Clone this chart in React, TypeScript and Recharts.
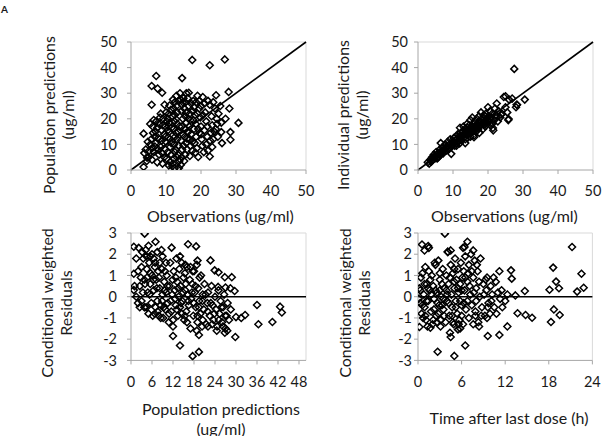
import React from "react";
import {
  ScatterChart,
  Scatter,
  XAxis,
  YAxis,
  ReferenceLine,
} from "recharts";

// panel A1: observations vs population predictions
const popObs = [
  3.6, 3.8, 3.6, 4.5, 5, 4.2, 5.5, 5.8, 6, 6.5, 6.8, 7, 6.2, 6.5, 7.2, 7.5, 8, 8.2, 8.5, 8, 7.5, 9, 9.5, 9.8, 10, 9.5, 9.8, 10.2, 10.5, 10.8,
  11, 11, 11, 11.2, 11.5, 11.2, 11.8, 12.5, 13.7, 12.2, 12.5, 12.3, 12.6, 12.2, 12.4, 12.5, 12.2, 12.5, 12, 13, 13.2, 13.3, 13.5, 13.2, 13.5, 13.4, 13.8, 14.2, 14.5, 14.6,
  14.3, 14.7, 14.5, 14.8, 14.4, 14.6, 14.2, 15, 15.5, 15.2, 15.5, 15.8, 15.6, 15.3, 15.8, 16, 15.5, 16.2, 16.5, 16.8, 17, 16.6, 17.2, 16.8, 17, 17.5, 17.8, 18, 18.3, 18.5,
  18, 18.6, 18.2, 18.8, 19.2, 19.5, 19.5, 19.8, 20, 19.6, 20.2, 20.4, 21, 21.2, 21.5, 21, 21.8, 21.5, 22, 22.5, 22.5, 23, 23.2, 22.8, 23.5, 23.2, 24, 24.3, 24.5, 24.2,
  24.8, 25, 25.5, 25.8, 25.8, 26, 27, 28.4, 28.4, 28.1, 27.9, 30.7, 5.9, 9.6, 5.9, 7.6, 8.9, 7.2, 14.6, 17.5, 22.5, 26.8, 15.8, 14, 13, 16.5, 11, 8.5, 9.2, 5.5,
  10.2, 8.8, 10.5, 4.8, 6.8, 19, 20.5, 22, 16, 17.5, 19, 20,
  9, 10.5, 11.5, 12.8, 13.8, 12.9, 11.8, 10.8, 9.8, 8.8, 7.8, 7, 6, 5.2, 4.6, 14, 15, 16.3, 17.8, 19.2, 20.5, 21.8, 22.6, 23.8, 24.6,
  14.8, 13.6, 17.2, 18.6, 15.8, 16.4, 17.6, 12.9, 11.6, 10.6, 13.1, 12, 10.8, 15.2, 16.8, 18.4, 20.8, 11.4, 10, 9, 8.3, 6.3, 7.8, 20, 23.5,
];
const popPred = [
  1.2, 6.6, 14.2, 3.5, 5, 8, 10, 12, 4, 7, 13, 15, 17, 19.5, 19, 16.5, 18, 12, 9, 6, 3, 2.5, 5, 8, 11, 14, 17, 19, 20, 22,
  18.5, 15, 12, 9, 6, 3, 1.5, 0.8, 0.8, 4.5, 7, 10, 13, 16, 19, 21.5, 24, 26.5, 27.5, 25, 22.5, 18, 15, 12, 9.5, 6, 3.5, 2, 5, 8,
  11.5, 14, 17, 20, 23, 25.5, 27.5, 28, 26.5, 24, 21, 18.5, 16, 13, 10.5, 8, 6, 28, 25, 22, 19.5, 17, 14, 12, 9.5, 7.5, 27, 24.5, 21.5, 18,
  16, 13, 10.5, 8.5, 5.1, 27, 24, 20.5, 17, 14.5, 12, 9.5, 26, 22.5, 19, 15.5, 13, 10, 7.5, 5.3, 25.5, 21, 17.5, 14.5, 12, 9, 24, 29.2, 20, 16,
  13, 22, 25, 18.5, 14.8, 10.5, 20, 14.8, 11.8, 24, 30.5, 18.4, 25.5, 25.5, 32.8, 31.8, 30.2, 36.7, 35.9, 43, 40.9, 43.2, 30, 30, 29, 30.2, 25.2, 22, 20, 18,
  4.5, 11.5, 15.5, 11, 9.2, 29, 28.5, 27, 12.2, 11, 22, 25,
  6.5, 7, 10.5, 8, 17, 19.8, 21, 17, 13, 15.5, 12.5, 10.5, 8.5, 7.5, 4.8, 4.2, 9.5, 14.8, 19.5, 16, 21.5, 17, 11.5, 15, 18,
  26.5, 27, 26, 26.5, 22.5, 20, 23, 14.5, 16.5, 12.8, 5, 2.5, 1.8, 3.5, 5.5, 6.8, 7, 23.5, 22.5, 17.5, 20.5, 14.5, 8, 14, 26.5,
];

// panel A2: observations vs individual predictions
const indObs = [
  2.8, 3.2, 3.5, 3.8, 4, 4.3, 4.5, 4.8, 5, 5.2, 5.5, 5.8, 6, 6.2, 6.5, 6.5, 6.8, 7, 7.2, 7.5, 7.8, 8, 8.2, 8.5, 8.8, 9, 9.2, 9.5, 9.5, 9.8,
  10, 10.2, 10.5, 10.6, 10.8, 11, 11.2, 11.4, 11.5, 11.8, 12, 12, 12.2, 12.4, 12.6, 12.8, 13, 13, 13.2, 13.4, 13.5, 13.8, 14, 14, 14.2, 14.4, 14.6, 14.8, 15, 15,
  15.2, 15.4, 15.5, 15.7, 15.9, 16, 16.2, 16.4, 16.6, 16.8, 17, 17.2, 17.4, 17.5, 17.6, 17.8, 18, 18.2, 18.4, 18.6, 18.8, 19, 19.2, 19.4, 19.6, 19.8, 20, 20.2, 20.4, 20.6,
  20.8, 21, 21.2, 21.5, 21.8, 22, 22.2, 22.5, 22.8, 23, 23.5, 24, 24.5, 25, 25.5, 25.8, 26, 27.5, 28, 28.2, 30.5, 4, 5.5, 11, 13.5, 16, 7, 8.5, 9.8, 25, 26.9, 28.3, 25.9, 21.4,
  10.3, 11.7, 12.9, 13.7, 14.9, 15.6, 16.5, 17.3, 18.1, 18.9, 19.7, 20.5, 21.3, 8.1, 6.1, 5.1, 11.9, 14.1, 16.9, 19.3, 22.3, 23.7,
];
const indPred = [
  3, 2.5, 4, 3.2, 5, 4.2, 6, 4.8, 5.5, 7, 6.2, 5, 6.8, 8, 6, 10.5, 7.5, 9, 6.5, 8.2, 10, 7.5, 9.2, 11, 8.5, 10, 12, 9, 6.3, 11,
  10, 12.5, 9.5, 11.5, 13, 10.5, 12, 14, 11, 13, 12, 16.5, 14.5, 11.5, 13.5, 15, 12.5, 17, 14, 16, 12, 15, 13.5, 18, 16.5, 14.5, 17.5, 15.5, 13, 19.5,
  17, 15, 20.5, 18, 16, 13.5, 19, 17, 15, 20, 18, 16, 21, 14.5, 19, 17.5, 22.5, 20, 18, 16, 21.5, 19, 17, 22, 20, 18, 24.5, 21, 19, 23,
  17.5, 20.5, 22, 15.5, 19.5, 24, 21.5, 26, 19, 23, 20.5, 22, 28.5, 24.5, 22.5, 19.5, 27.5, 39.5, 24.5, 25.5, 27.5, 3.8, 4.5, 9.5, 10.5, 12.8, 7.2, 8.3, 9.5, 28.8, 27.9, 25.5, 19.9, 16.4,
  10.8, 11.5, 13.8, 14.2, 14.5, 16.8, 15.8, 17.3, 18.6, 17.7, 19.3, 20.2, 18.2, 8.6, 6.2, 4.6, 10.4, 12.4, 16.6, 20.9, 20.3, 21.6,
];

// panel A3: population predictions vs CWRES
const resPred = [
  2, 2.5, 3, 3.5, 3.8, 4, 4.2, 4.5, 4.8, 5, 5.2, 5.5, 5.8, 6, 6, 6.2, 6.5, 6.8, 7, 7.2, 7.5, 7.8, 8, 8.2, 8.5, 8.8, 9, 9.2, 9.5, 9.8,
  10, 10.2, 10.5, 10.8, 11, 11.2, 11.5, 11.8, 12, 12.2, 12.5, 12.8, 13, 13.2, 13.4, 13.6, 13.8, 14, 14.2, 14.5, 14.7, 15, 15.2, 15.5, 15.8, 16, 16.2, 16.5, 16.8, 17,
  17.2, 17.5, 17.8, 18, 18.2, 18.5, 18.8, 19, 19.2, 19.5, 19.8, 20, 20.3, 20.5, 20.8, 21, 21.5, 21.8, 22, 22.5, 23, 23.3, 23.6, 24, 24.3, 24.6, 25, 25.3, 25.6, 26,
  26.3, 26.6, 27, 27.3, 27.6, 28, 28.5, 1.5, 2.2, 3.2, 5, 6.5, 7.5, 9, 10, 14, 15.5, 17, 19, 4.5, 3.8, 6.8, 8.5, 12, 14.5, 16, 18.8, 22, 24.5, 26.8, 27.5,
  3.9, 0.8, 7, 8.7, 11.6, 16.3, 18.6, 22.7, 0.8, 0.8, 36, 42.6, 43.1, 36.4, 40.4, 29.8, 12, 14, 17.6, 19.4, 19.4, 32.6, 31.5, 30, 23.9, 25, 26.8, 28.8, 24.9, 27, 28.4, 29.6,
  1, 1.5, 2, 2.8, 3.4, 4, 4.6, 5.3, 5.6, 6.4, 7.4, 8, 8.9, 9.6, 10.4, 11.3, 11.9, 12.6, 13.5, 14.3, 14.9, 15.6, 16.4, 17.4, 18.4, 19.4, 20.4, 21.3, 22.8, 23.8,
  25.8, 26.9, 3, 4.4, 5.5, 6.9, 8.2, 9.7, 12.8, 15.4, 17.6, 19.6, 2.5, 7.6, 9.4, 10.9, 13.1, 15.4, 17.9, 19, 20.5, 21.9, 23.2, 25.1, 26.3,
];
const resPredCwres = [
  1.2, 0.5, -0.2, 1.8, 0.8, -0.5, 2.2, 1.3, 0.2, -0.8, 1.6, 0.6, -0.3, 2, 1, -0.9, 0.3, 1.4, -0.5, 0.8, -0.2, 1.2, -0.9, 0.4, -0.4, 1.3, 0.1, -1, 0.7, -0.6,
  0.2, 1, -0.3, -1.2, 0.5, 1.6, -0.7, 0.1, -1.4, 1.2, 0.3, -0.4, 1.8, 0.7, -0.9, 0, 1.3, -0.5, 0.5, 1.6, -0.2, 0.9, -1.1, 0.3, -0.7, 1.4, 0.1, -0.4, 0.8, -1.5,
  -0.1, 0.6, -0.9, 1.2, 0.2, -0.5, 1.5, -1.2, 0.4, -0.2, -0.8, 1, -1.4, 0.1, -0.6, 0.6, -1.3, -0.3, 0.2, -0.9, 0.5, -0.4, -1.1, 0, -0.6, -1.4, 0.3, -0.8, -0.2, -1.2,
  -0.5, 0.1, -1.5, -0.9, -0.3, -1.1, -0.6, 1.8, 2.3, 2.1, 2.4, 1.8, 2.1, 1.9, 1.6, 1.9, 1.5, 1.4, 1.7, -0.5, -0.5, -0.8, -1, -1.1, -0.8, -1.2, -1.6, -1.4, -1.6, -1.7, -1.6,
  2.97, 2.35, 2.59, 2.2, 2.31, 2.47, 2.37, 1.71, 1.08, 0.31, -0.39, -0.47, -0.74, -1.3, -1.19, -1.9, -1.85, -2.3, -2.8, -2.6, -1.8, -0.86, -1, -0.96, 1.24, 1.15, 0.92, 0.92, 0.46, 0.43, 0.4, 0.27,
  0.5, 0, -0.3, 0.9, 0.2, 0.6, 0.9, 0.1, 1.1, 0.8, 0.4, 0.9, -0.2, 0.3, 0.5, -0.2, 0.8, -0.1, 0.4, -0.3, 0.2, 0.6, -0.2, 0.2, 0.5, -0.5, -0.2, 0.1, -0.3, -0.8,
  -0.5, -0.9, 1.4, 1.9, 1.9, 1.6, 1.6, 1.2, 0.9, 1.1, 1.2, 0.9, -0.5, -0.7, -0.5, -0.8, -0.6, -0.9, -0.3, -0.9, -1.1, -0.7, -1.3, -1.1, -1.4,
];

// panel A4: time after last dose vs CWRES
const resTime = [
  0.2, 0.3, 0.4, 0.5, 0.6, 0.8, 0.9, 1, 1.1, 1.2, 1.4, 1.5, 1.6, 1.8, 1.9, 2, 2.1, 2.2, 2.4, 2.5, 2.6, 2.8, 2.9, 3, 3.1, 3.2, 3.4, 3.5, 3.6, 3.8,
  3.9, 4, 4.1, 4.2, 4.3, 4.5, 4.6, 4.7, 4.8, 4.9, 5, 5.1, 5.2, 5.3, 5.4, 5.5, 5.6, 5.7, 5.8, 5.9, 6, 6.1, 6.2, 6.3, 6.4, 6.5, 6.6, 6.8, 7, 7,
  7.2, 7.3, 7.4, 7.6, 7.8, 7.9, 8, 8.2, 8.3, 8.5, 8.6, 8.8, 9, 9.2, 9.4, 9.5, 9.7, 9.9, 10, 10.2, 10.5, 10.7, 11, 11.3, 11.5, 12, 12.3, 1.5, 2.3, 3,
  6.2, 5, 4, 3.5, 2.7, 4.4, 5.8, 7.6, 8.4, 9.5, 1.3, 2.6, 6, 8, 3.3, 1.7, 0.7,
  3.7, 0.55, 1.4, 0.9, 6.8, 6.4, 7.6, 4.1, 4.5, 21.2, 18.6, 22.5, 12.8, 12.9, 11.2, 19, 19.4, 18.1, 21.9, 22.8, 14.7, 13.4, 13.7, 14.8, 15.7, 18.7, 19.5, 18.3,
  12.3, 11.2, 9.6, 4.5, 5.5, 6.5, 2.7, 5, 0.2, 1.7,
  0.1, 0.3, 0.6, 0.9, 1.2, 1.4, 1.8, 2.2, 2.4, 2.8, 3, 3.3, 3.6, 3.9, 4.2, 4.4, 4.7, 5, 5.2, 5.5, 5.8, 6, 6.3, 6.5, 6.8, 7.1, 7.4, 7.7, 8.1, 8.4,
  8.7, 9.1, 9.6, 10.1, 10.8, 4.8, 5.6, 3.1, 2.1, 1, 6.9, 7.9, 9.3, 10.4, 11.6,
];
const resTimeCwres = [
  0.4, -0.3, 0.9, -0.8, 1.1, 0.1, -0.5, 1.4, -1.1, 0.6, -0.2, 1.2, 0.3, -0.7, 1, -1.3, 0.5, -0.1, 1.5, -0.9, 0.2, 1.7, -0.4, 0.8, -1.1, 0, 1.3, -0.6, 0.4, -1.2,
  1, -0.2, 2.1, 0.6, -0.9, 1.5, 0.1, -0.5, 1.1, -1.3, 0.4, 1.8, -0.2, 0.8, -0.8, 1.3, 0.2, -1.1, 0.6, 1.6, -0.4, 0.9, -1.3, 1.2, 0.3, 1.9, -0.6, 0.7, 1.5, -1,
  0.1, 2, -0.4, 0.9, 1.7, -0.7, 0.4, 1.2, -1.2, 0, 1.8, -0.5, 0.6, -0.9, 0.3, 0.9, -0.3, -0.8, 0.5, 0.1, -0.5, 0.7, 0.2, -0.1, 0.3, -0.2, 0.1, 2.3, 1.6, 1.1,
  2.3, 1.3, 0.1, -0.1, -0.3, -1.7, -1.5, -1.3, -1.4, -1, -1.4, -1.2, -0.9, -0.2, 0.6, 0.8, -1,
  2.97, 2.46, 2.39, 2.18, 2.59, 2.34, 2.18, 2.12, 2.18, 2.34, 1.37, 1.08, 1.24, 0.85, 1.2, 0.71, 0.4, 0.33, 0.24, 0.42, 0.27, 0.06, -0.78, -0.86, -0.99, -0.6, -0.86, -1.19,
  -1.4, -1.8, -1.85, -1.9, -1.54, -2.3, -2.59, -2.79, -1.43, -1.46,
  -0.1, 0.3, -0.4, 0.6, -0.2, 0.4, 0.1, -0.6, 0.3, -0.8, 0.3, -0.4, -0.9, 0.3, -0.3, 0.9, -0.9, 0.7, -0.5, 0.4, -0.2, 0.3, -0.3, 0.9, -0.2, 0.5, 1.2, 0.2, 1.5, 0.7,
  -0.9, 0.1, -0.5, -0.2, -0.8, -1.2, -1.3, -1.4, -1.1, -0.9, 1.1, -0.9, 0.8, 0.9, -0.5,
];

const concTicks = [0, 10, 20, 30, 40, 50];
const predTicks = [0, 6, 12, 18, 24, 30, 36, 42, 48];
const timeTicks = [0, 6, 12, 18, 24];
const resTicks = [-3, -2, -1, 0, 1, 2, 3];

const FONT = "Lato, 'Open Sans', sans-serif";
const AXIS = "#a6a6a6";
const BORDER = "#d9d9d9";
const TEXT = "#1a1a1a";

const zip = (xs: number[], ys: number[]) => xs.map((x, i) => ({ x, y: ys[i] }));

const Diamond = (props: any) => {
  const { cx, cy } = props;
  if (cx == null || cy == null) return null;
  const r = 3.5;
  return (
    <path
      d={`M${cx},${cy - r}L${cx + r},${cy}L${cx},${cy + r}L${cx - r},${cy}Z`}
      fill="none"
      stroke="#000"
      strokeWidth={1.5}
    />
  );
};

interface PanelProps {
  box: [number, number, number, number]; // plot area x0, y0, x1, y1
  data: { x: number; y: number }[];
  xDomain: [number, number];
  xTicks: number[];
  yDomain: [number, number];
  yTicks: number[];
  yTickMargin: number;
  identity?: boolean;
  zeroLine?: boolean;
}

function Panel({ box, data, xDomain, xTicks, yDomain, yTicks, yTickMargin, identity, zeroLine }: PanelProps) {
  const [x0, y0, x1, y1] = box;
  const padL = 60;
  const padT = 10;
  const padR = 12;
  const padB = 36;
  const tick = { fontSize: 14.5, fill: TEXT, fontFamily: FONT };
  return (
    <div style={{ position: "absolute", left: x0 - padL, top: y0 - padT }}>
      <ScatterChart
        width={x1 - x0 + padL + padR}
        height={y1 - y0 + padT + padB}
        margin={{ top: padT, right: padR, left: 0, bottom: 0 }}
      >
        <XAxis
          type="number"
          dataKey="x"
          domain={xDomain}
          ticks={xTicks}
          allowDataOverflow
          height={padB}
          tick={tick}
          tickSize={4}
          tickMargin={12}
          stroke={AXIS}
          interval={0}
        />
        <YAxis
          type="number"
          dataKey="y"
          domain={yDomain}
          ticks={yTicks}
          allowDataOverflow
          width={padL}
          tick={tick}
          tickSize={4}
          tickMargin={yTickMargin}
          stroke={AXIS}
          interval={0}
        />
        <ReferenceLine y={yDomain[1]} stroke={BORDER} strokeWidth={1} />
        <ReferenceLine x={xDomain[1]} stroke={BORDER} strokeWidth={1} />
        {zeroLine && <ReferenceLine y={0} stroke="#000" strokeWidth={1.6} />}
        {identity && (
          <ReferenceLine
            segment={[
              { x: xDomain[0], y: yDomain[0] },
              { x: xDomain[1], y: yDomain[1] },
            ]}
            stroke="#000"
            strokeWidth={1.6}
          />
        )}
        <Scatter data={data} shape={Diamond} isAnimationActive={false} />
      </ScatterChart>
    </div>
  );
}

const VTitle = ({ x, y, lines }: { x: number; y: number; lines: string[] }) => (
  <>
    {lines.map((l, i) => (
      <text
        key={l}
        x={x + i * 19}
        y={y}
        transform={`rotate(-90 ${x + i * 19} ${y})`}
        textAnchor="middle"
        dominantBaseline="central"
        fontSize={16}
        fontFamily={FONT}
        fill={TEXT}
      >
        {l}
      </text>
    ))}
  </>
);

const HTitle = ({ x, y, text }: { x: number; y: number; text: string }) => (
  <text x={x} y={y} textAnchor="middle" dominantBaseline="central" fontSize={16} fontFamily={FONT} fill={TEXT}>
    {text}
  </text>
);

export default function App() {
  return (
    <div style={{ position: "absolute", left: 0, top: 0, width: 602, height: 436, background: "#fff", overflow: "hidden" }}>
      <Panel
        box={[130.5, 42, 305.5, 170]}
        data={zip(popObs, popPred)}
        xDomain={[0, 50]}
        xTicks={concTicks}
        yDomain={[0, 50]}
        yTicks={concTicks}
        yTickMargin={10}
        identity
      />
      <Panel
        box={[417.7, 42, 592.7, 170]}
        data={zip(indObs, indPred)}
        xDomain={[0, 50]}
        xTicks={concTicks}
        yDomain={[0, 50]}
        yTicks={concTicks}
        yTickMargin={6}
        identity
      />
      <Panel
        box={[130.5, 233.3, 305.5, 360.7]}
        data={zip(resPred, resPredCwres)}
        xDomain={[0, 50]}
        xTicks={predTicks}
        yDomain={[-3, 3]}
        yTicks={resTicks}
        yTickMargin={10}
        zeroLine
      />
      <Panel
        box={[418.3, 233.3, 592.7, 360.7]}
        data={zip(resTime, resTimeCwres)}
        xDomain={[0, 24]}
        xTicks={timeTicks}
        yDomain={[-3, 3]}
        yTicks={resTicks}
        yTickMargin={2}
        zeroLine
      />
      <svg width={602} height={436} style={{ position: "absolute", left: 0, top: 0, pointerEvents: "none" }}>
        <text x={1} y={13} fontSize={10} fontWeight="bold" fontFamily={FONT} fill={TEXT}>
          A
        </text>
        <VTitle x={48} y={115} lines={["Population predictions", "(ug/ml)"]} />
        <VTitle x={342} y={115} lines={["Individual predictions", "(ug/ml)"]} />
        <VTitle x={46.5} y={303} lines={["Conditional weighted", "Residuals"]} />
        <VTitle x={344.5} y={303} lines={["Conditional weighted", "Residuals"]} />
        <HTitle x={220.5} y={215} text="Observations (ug/ml)" />
        <HTitle x={504.5} y={215} text="Observations (ug/ml)" />
        <HTitle x={221} y={408} text="Population predictions" />
        <HTitle x={221} y={428} text="(ug/ml)" />
        <HTitle x={509} y={417} text="Time after last dose (h)" />
      </svg>
    </div>
  );
}
